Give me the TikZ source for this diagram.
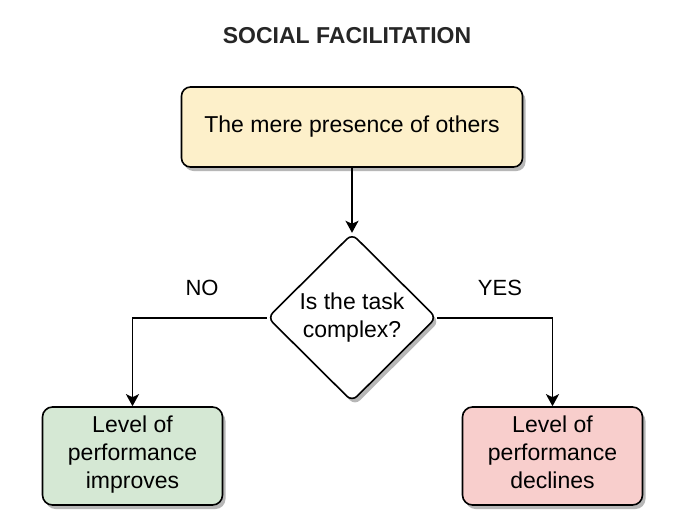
\documentclass[tikz,border=0pt]{standalone}
\usepackage{fontspec}
\setmainfont{Liberation Sans}
\usepackage{tikz}
\usetikzlibrary{shapes.geometric, arrows.meta, positioning, shadows}
\definecolor{causeyellow}{HTML}{FDF0CA}
\definecolor{goodgreen}{HTML}{D5E8D4}
\definecolor{badred}{HTML}{F8CECC}
\tikzset{
  boxshadow/.style={
    drop shadow={shadow xshift=3pt, shadow yshift=-4pt, fill=black!35, opacity=0.8}
  },
  cause/.style={
    rectangle, rounded corners=9pt, draw=black, line width=1.6pt,
    fill=causeyellow, boxshadow,
    minimum width=341pt, minimum height=80pt,
    text centered, font=\fontsize{23}{28}\selectfont
  },
  question/.style={
    diamond, rounded corners=7pt, draw=black, line width=1.6pt,
    fill=white, boxshadow, inner sep=0pt,
    minimum width=169pt, minimum height=168pt,
    align=center, font=\fontsize{23}{28}\selectfont
  },
  outcome/.style={
    rectangle, rounded corners=10pt, draw=black, line width=1.6pt,
    boxshadow, minimum width=180pt, minimum height=98pt,
    align=center, font=\fontsize{23}{28}\selectfont
  },
  answer/.style={font=\fontsize{22}{26}\selectfont},
  arrow/.style={line width=1.8pt, -{Stealth[length=12pt, width=13pt, inset=3pt]}},
}
\begin{document}
\begin{tikzpicture}[x=1pt, y=-1pt]
  \useasboundingbox (0,0) rectangle (678,528);
  \fill[white] (0,0) rectangle (678,528);

  \node (title) at (347,36) {\fontsize{23}{27}\selectfont\bfseries\color{black!85} SOCIAL FACILITATION};
  \node (mere)  [cause] at (352,127) {The mere presence of others};
  \node (task)  [question, below=65pt of mere] {Is the task\\complex?};
  \node (better) [outcome, fill=goodgreen] at (132.5,456) {Level of\\performance\\improves\strut};
  \node (worse)  [outcome, fill=badred]    at (552.5,456) {Level of\\performance\\declines\strut};

  \node (no)  [answer] at (202,288) {NO};
  \node (yes) [answer] at (500,288) {YES};

  \draw [arrow] (mere)  -- (task);
  \draw [arrow] (task.west) -| (better.north);
  \draw [arrow] (task.east) -| (worse.north);
\end{tikzpicture}
\end{document}
